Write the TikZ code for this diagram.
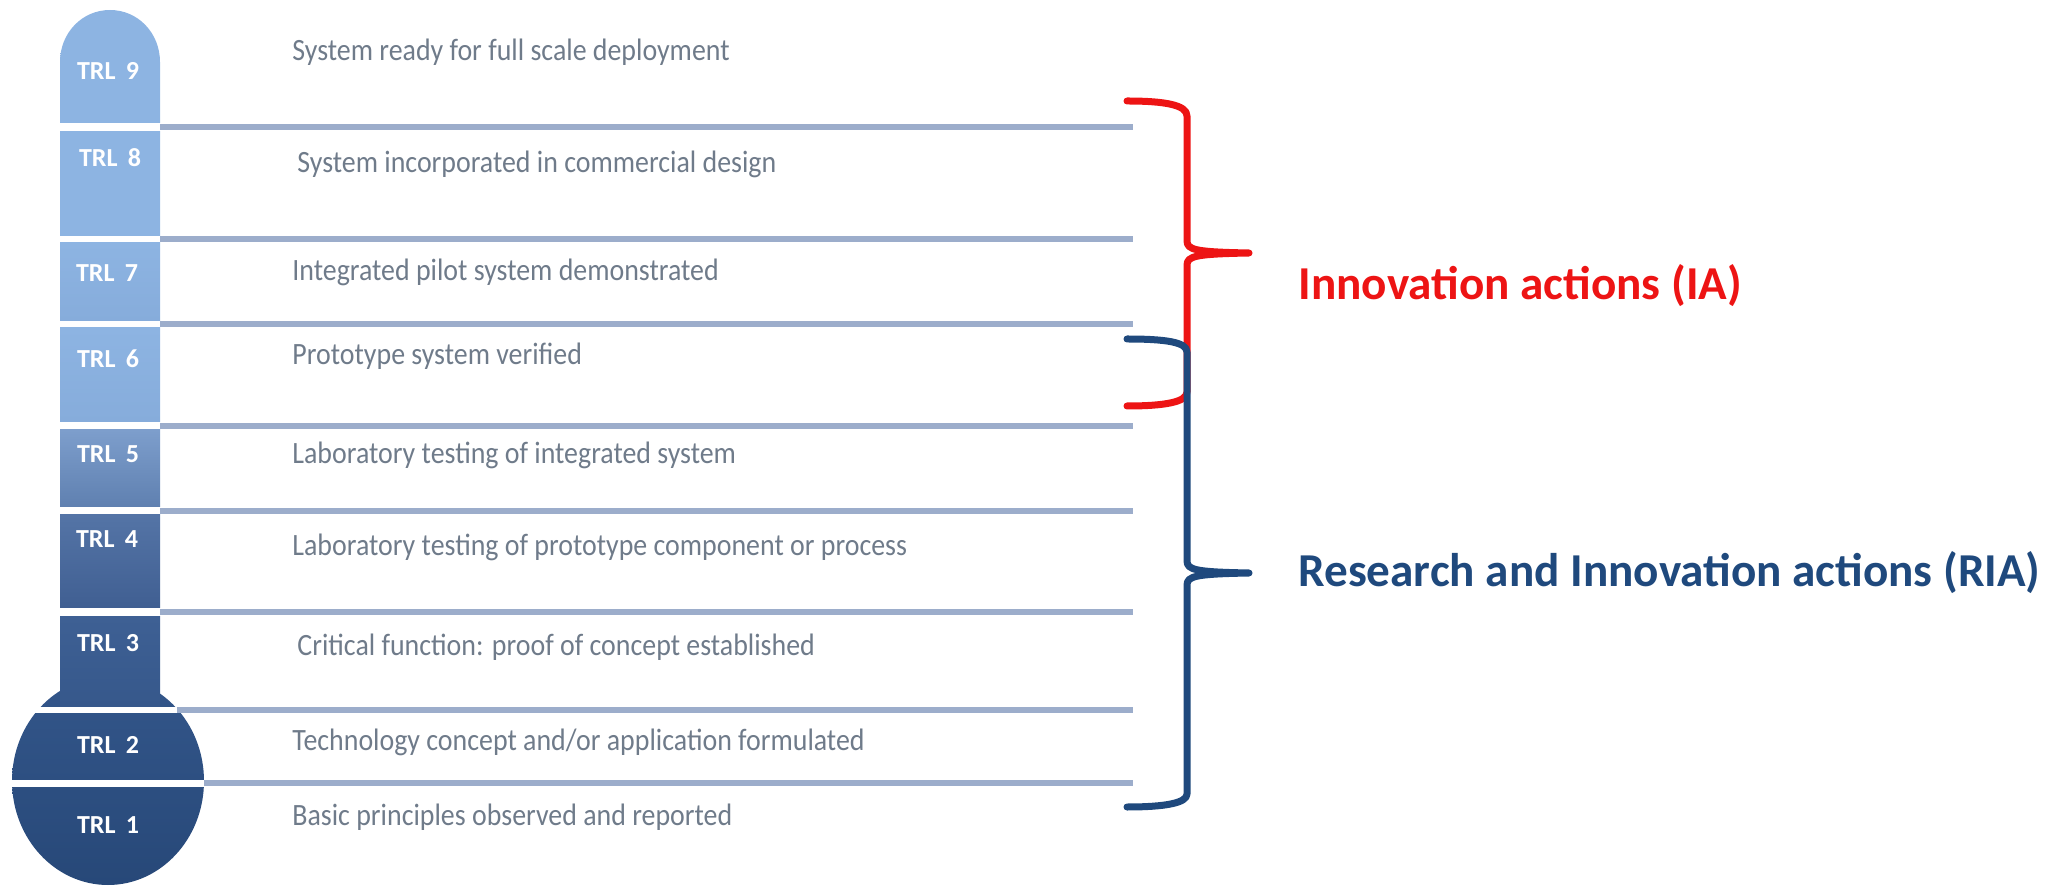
\documentclass[tikz,border=0pt]{standalone}
\usepackage{fontspec}
\setmainfont{Carlito}
\newfontfamily\descfont[FakeStretch=0.9]{Carlito}
\usepackage{tikz}
\definecolor{lightbar}{HTML}{8DB4E2}
\definecolor{lightbarlow}{HTML}{86ACDB}
\definecolor{midbartop}{HTML}{7D9ECC}
\definecolor{midbarlow}{HTML}{5F80B0}
\definecolor{darkbartop}{HTML}{5474A6}
\definecolor{darkbarlow}{HTML}{405F92}
\definecolor{stemtop}{HTML}{3E6094}
\definecolor{stemlow}{HTML}{36588B}
\definecolor{bulbtop}{HTML}{33568A}
\definecolor{bulblow}{HTML}{274878}
\definecolor{rungcol}{HTML}{9CADCB}
\definecolor{desccol}{HTML}{6F7B8A}
\definecolor{iared}{HTML}{ED1414}
\definecolor{riablue}{HTML}{1F497D}
\tikzstyle{trl}=[text=white, font=\fontsize{13}{13}\selectfont\bfseries, anchor=base]
\tikzstyle{desc}=[text=desccol, font=\descfont\fontsize{15.5}{15.5}\selectfont, anchor=base west, inner sep=0pt]
\tikzstyle{rung}=[draw=rungcol, line width=3pt]
\tikzstyle{brace}=[line width=3.5pt, line cap=round, line join=round]
\tikzstyle{actlabel}=[font=\fontsize{23.6}{23.6}\selectfont\bfseries, anchor=base west, inner sep=0pt]

\begin{document}
\begin{tikzpicture}[x=0.5pt,y=-0.5pt]
\useasboundingbox (0,0) rectangle (2054,886);
% thermometer column
\shade[top color=lightbar, bottom color=lightbar] (60,123) -- (60,62) .. controls (60,33) and (82,10) .. (110,10) .. controls (138,10) and (160,33) .. (160,62) -- (160,123) -- cycle;
\shade[top color=lightbar, bottom color=lightbar] (60,132) rectangle (160,236);
\shade[top color=lightbar, bottom color=lightbarlow] (60,243) rectangle (160,321);
\shade[top color=lightbar, bottom color=lightbarlow] (60,328) rectangle (160,422);
\shade[top color=midbartop, bottom color=midbarlow] (60,430) rectangle (160,507);
\shade[top color=darkbartop, bottom color=darkbarlow] (60,515) rectangle (160,608);
\begin{scope}
\clip (0,0) rectangle (220,706);
\shade[top color=bulbtop, bottom color=bulblow] (108,781) ellipse [x radius=96, y radius=104];
\end{scope}
\shade[top color=stemtop, bottom color=stemlow] (60,617) rectangle (160,706);
\begin{scope}
\clip (0,713) rectangle (220,779);
\shade[top color=bulbtop, bottom color=bulblow] (108,781) ellipse [x radius=96, y radius=104];
\end{scope}
\begin{scope}
\clip (0,787) rectangle (220,890);
\shade[top color=bulbtop, bottom color=bulblow] (108,781) ellipse [x radius=96, y radius=104];
\end{scope}

% level separators
\draw[rung] (160,127.5) -- (1133,127.5);
\draw[rung] (160,239.5) -- (1133,239.5);
\draw[rung] (160,324.5) -- (1133,324.5);
\draw[rung] (160,426) -- (1133,426);
\draw[rung] (160,511) -- (1133,511);
\draw[rung] (160,612.5) -- (1133,612.5);
\draw[rung] (177,709.5) -- (1133,709.5);
\draw[rung] (204,783) -- (1133,783);

% levels
\node (t9) [trl] at (108,80) {TRL \,9};
\node (t8) [trl] at (110,167) {TRL \,8};
\node (t7) [trl] at (107,282) {TRL \,7};
\node (t6) [trl] at (108,368) {TRL \,6};
\node (t5) [trl] at (108,463) {TRL \,5};
\node (t4) [trl] at (107,548) {TRL \,4};
\node (t3) [trl] at (108,652) {TRL \,3};
\node (t2) [trl] at (108,753) {TRL \,2};
\node (t1) [trl] at (108,833) {TRL \,1};

\node (d9) [desc] at (292,61) {System ready for full scale deployment};
\node (d8) [desc] at (297,173) {System incorporated in commercial design};
\node (d7) [desc] at (292,281) {Integrated pilot system demonstrated};
\node (d6) [desc] at (292,365) {Prototype system verified};
\node (d5) [desc] at (292,464) {Laboratory testing of integrated system};
\node (d4) [desc] at (292,556) {Laboratory testing of prototype component or process};
\node (d3) [desc] at (297,655) {Critical function: proof of concept established};
\node (d2) [desc] at (292,750) {Technology concept and/or application formulated};
\node (d1) [desc] at (292,825) {Basic principles observed and reported};

% braces
\coordinate (iatip) at (1249,253);
\coordinate (riatip) at (1249,573);
\draw[brace, iared] (1127,101) .. controls (1165,101) and (1187,105) .. (1187,116) -- (1187,241) .. controls (1187,250) and (1196,252) .. (iatip) .. controls (1196,254) and (1187,256) .. (1187,265) -- (1187,392) .. controls (1187,402) and (1165,406) .. (1127,406);
\draw[brace, riablue] (1127,339) .. controls (1165,339) and (1187,342) .. (1187,352) -- (1187,561) .. controls (1187,570) and (1196,572) .. (riatip) .. controls (1196,574) and (1187,576) .. (1187,585) -- (1187,794) .. controls (1187,803) and (1165,807) .. (1127,807);

\node (ia) [actlabel, text=iared] at (1298,300) {Innovation actions (IA)};
\node (ria) [actlabel, text=riablue] at (1298,587) {Research and Innovation actions (RIA)};
\end{tikzpicture}
\end{document}
